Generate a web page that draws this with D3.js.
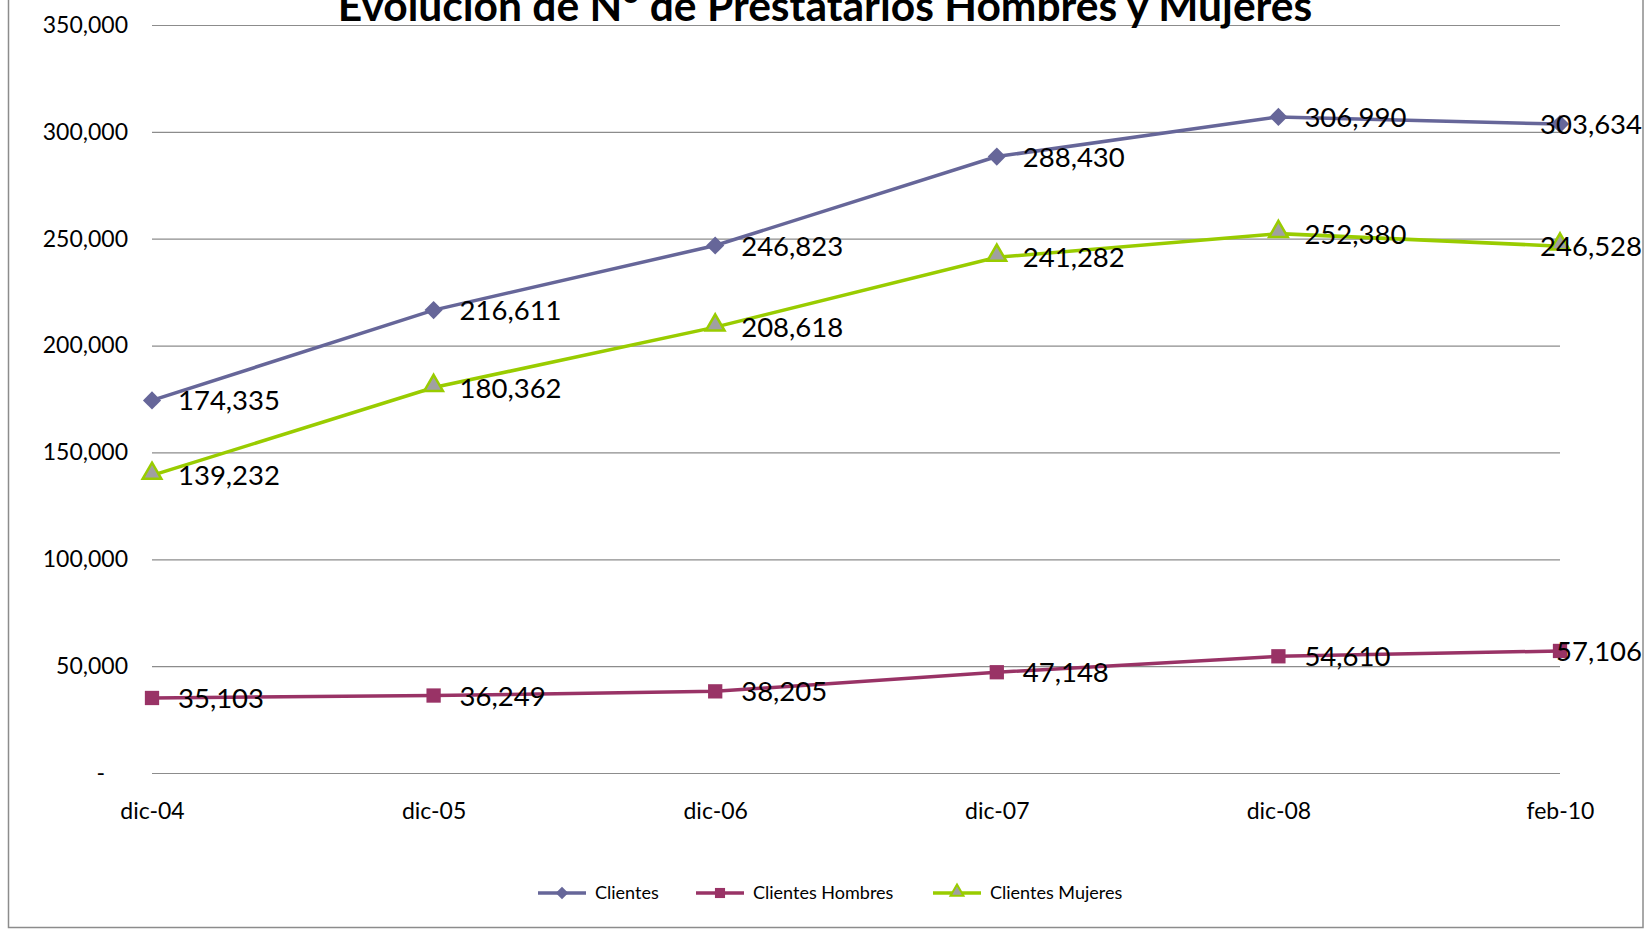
<!DOCTYPE html>
<html>
<head>
<meta charset="utf-8">
<script src="https://cdn.jsdelivr.net/npm/d3@7"></script>
<style>
  html, body { margin: 0; padding: 0; background: #fff; overflow: hidden; }
  svg { display: block; font-family: Lato, "Open Sans", sans-serif; }
</style>
</head>
<body>
<div id="chart"></div>
<script>
//Data
var periods = ["dic-04", "dic-05", "dic-06", "dic-07", "dic-08", "feb-10"];
var clientes = [174335, 216611, 246823, 288430, 306990, 303634];
var clientesHombres = [35103, 36249, 38205, 47148, 54610, 57106];
var clientesMujeres = [139232, 180362, 208618, 241282, 252380, 246528];
var yTicks = [0, 50000, 100000, 150000, 200000, 250000, 300000, 350000];
var titleText = "Evolución de Nº de Prestatarios Hombres y Mujeres";

var series = [
	{name: "Clientes", values: clientes, color: "#666699", marker: "diamond"},
	{name: "Clientes Hombres", values: clientesHombres, color: "#993366", marker: "square"},
	{name: "Clientes Mujeres", values: clientesMujeres, color: "#99cc00", marker: "triangle"}
];

//Sizing
var width = 1649, height = 931;
var plot = {left: 152, right: 1560, top: 25, bottom: 773};

var svg = d3.select('#chart').append('svg')
	.attr('width', width)
	.attr('height', height);

//Chart area border (top edge sits above the window)
svg.append('rect')
	.attr('x', 8.5).attr('y', -10)
	.attr('width', 1643 - 8.5).attr('height', 927.5 + 10)
	.attr('fill', 'none')
	.attr('stroke', '#8c8c8c')
	.attr('stroke-width', 1.5);

//Scales
var x = d3.scalePoint().domain(periods).range([plot.left, plot.right]);
var y = d3.scaleLinear().domain([0, 350000]).range([plot.bottom, plot.top]);

var fmt = d3.format(",");

//Gridlines + y labels
var yAxis = svg.append('g')
	.attr('class', 'y axis')
	.attr('transform', 'translate(' + plot.left + ',0)')
	.call(d3.axisLeft(y)
		.tickValues(yTicks)
		.tickSize(-(plot.right - plot.left))
		.tickPadding(24)
		.tickFormat(function(d) { return d === 0 ? "-" : fmt(d); }));
yAxis.select('.domain').remove();
yAxis.selectAll('line')
	.attr('stroke', '#8c8c8c')
	.attr('stroke-width', 1.2);
yAxis.selectAll('text')
	.attr('fill', '#000')
	.style('font-size', '23px')
	.style('font-family', 'Lato, sans-serif');
yAxis.selectAll('.tick')
	.filter(function(d) { return d === 0; })
	.select('text')
	.attr('x', -47);

//x labels
var xAxis = svg.append('g')
	.attr('class', 'x axis')
	.attr('transform', 'translate(0,' + plot.bottom + ')')
	.call(d3.axisBottom(x).tickSize(0).tickPadding(30));
xAxis.select('.domain').remove();
xAxis.selectAll('text')
	.attr('fill', '#000')
	.style('font-size', '23px')
	.style('font-family', 'Lato, sans-serif');

//Marker shapes
function markerPath(kind) {
	if (kind === "diamond") return d3.symbol().type(d3.symbolDiamond2).size(210)();
	if (kind === "square") return d3.symbol().type(d3.symbolSquare2).size(260)();
	return d3.symbol().type(d3.symbolTriangle2).size(250)();
}

var line = d3.line()
	.x(function(d, i) { return x(periods[i]); })
	.y(function(d) { return y(d); });

series.forEach(function(s) {
	var g = svg.append('g').attr('class', 'series');
	g.append('path')
		.datum(s.values)
		.attr('d', line)
		.attr('fill', 'none')
		.attr('stroke', s.color)
		.attr('stroke-width', 3.5);
	g.selectAll('path.marker')
		.data(s.values)
		.enter().append('path')
			.attr('class', 'marker')
			.attr('d', markerPath(s.marker))
			.attr('transform', function(d, i) {
				var dy = s.marker === "triangle" ? -2 : 0;
				return 'translate(' + x(periods[i]) + ',' + (y(d) + dy) + ')';
			})
			.attr('fill', s.marker === "triangle" ? '#a0a0a0' : s.color)
			.attr('stroke', s.marker === "triangle" ? s.color : 'none')
			.attr('stroke-width', 2.5);
});

//Data labels (drawn last so they sit on top); the last one is right-aligned to the border
var last = periods.length - 1;
series.forEach(function(s) {
	svg.append('g').attr('class', 'labels')
		.selectAll('text')
		.data(s.values)
		.enter().append('text')
			.attr('x', function(d, i) { return x(periods[i]) + (i === last ? 82 : 26); })
			.attr('y', function(d) { return y(d) + 10; })
			.attr('text-anchor', function(d, i) { return i === last ? 'end' : 'start'; })
			.attr('fill', '#000')
			.style('font-size', '27.5px')
			.text(function(d) { return fmt(d); });
});

//Title: fit to the width it takes in the original
var title = svg.append('text')
	.attr('x', (338 + 1312) / 2)
	.attr('y', 21)
	.attr('text-anchor', 'middle')
	.style('font-weight', 'bold')
	.style('font-size', '32px')
	.text(titleText);
var tw = title.node().getComputedTextLength();
title.style('font-size', (32 * 975 / tw) + 'px');

//Legend
var legendItems = [
	{x: 538, tx: 595},
	{x: 696, tx: 753},
	{x: 933, tx: 990}
];
var legend = svg.append('g').attr('class', 'legend');
series.forEach(function(s, i) {
	var li = legendItems[i];
	var g = legend.append('g');
	g.append('line')
		.attr('x1', li.x).attr('x2', li.x + 48)
		.attr('y1', 893).attr('y2', 893)
		.attr('stroke', s.color)
		.attr('stroke-width', 3.5);
	var sz = s.marker === "diamond" ? 100 : (s.marker === "square" ? 130 : 120);
	var sym = s.marker === "diamond" ? d3.symbolDiamond2 : (s.marker === "square" ? d3.symbolSquare2 : d3.symbolTriangle2);
	g.append('path')
		.attr('d', d3.symbol().type(sym).size(sz)())
		.attr('transform', 'translate(' + (li.x + 24) + ',' + (s.marker === "triangle" ? 892 : 893) + ')')
		.attr('fill', s.marker === "triangle" ? '#a0a0a0' : s.color)
		.attr('stroke', s.marker === "triangle" ? s.color : 'none')
		.attr('stroke-width', 2);
	g.append('text')
		.attr('x', li.tx)
		.attr('y', 899)
		.attr('fill', '#000')
		.style('font-size', '18px')
		.text(s.name);
});
</script>
</body>
</html>
